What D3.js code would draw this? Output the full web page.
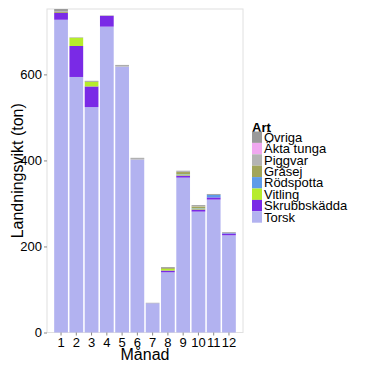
<!DOCTYPE html>
<html>
<head>
<meta charset="utf-8">
<script src="https://cdn.jsdelivr.net/npm/d3@7"></script>
<style>
  body { margin: 0; background: #fff; }
  text { font-family: "Liberation Sans", Arial, sans-serif; fill: #000; }
</style>
</head>
<body>
<svg id="chart" width="367" height="367"></svg>
<script>
var months = ["1", "2", "3", "4", "5", "6", "7", "8", "9", "10", "11", "12"];
var species = ["Torsk", "Skrubbskädda", "Vitling", "Rödspotta", "Gråsej", "Piggvar", "Äkta tunga", "Övriga"];
var colors = ["#b2b2f0", "#7a2ae6", "#b6ec2c", "#5e9be8", "#a2a55a", "#b4b4b4", "#f0a8f0", "#9a9a9a"];

var torsk        = [727, 594, 524, 711, 618, 402, 68, 140, 360, 281, 309, 226];
var skrubbskadda = [16, 72, 48, 25, 0, 0, 0, 4, 5, 5, 5, 4];
var vitling      = [0, 19, 11, 0, 0, 0, 0, 4, 2, 2, 0, 0];
var rodspotta    = [0, 0, 0, 0, 0, 0, 0, 0, 1, 1, 6, 1];
var grasej       = [2, 0, 0, 0, 0, 0, 0, 2, 5, 4, 0, 0];
var piggvar      = [1, 0, 0, 0, 2, 2, 0, 0, 1, 1, 0, 0];
var aktaTunga    = [0, 0, 0, 0, 0, 0, 0, 0, 0, 0, 0, 0];
var ovriga       = [6, 1, 2, 1, 2, 2, 1, 2, 2, 2, 2, 2];
var yTicks = [0, 200, 400, 600];

var series = [torsk, skrubbskadda, vitling, rodspotta, grasej, piggvar, aktaTunga, ovriga];

var rows = months.map(function(m, i) {
    var r = {month: m};
    species.forEach(function(s, j) { r[s] = series[j][i]; });
    return r;
});

var stacked = d3.stack().keys(species)(rows);
var maxTotal = d3.max(rows, function(r) { return d3.sum(species, function(s) { return r[s]; }); });

var panel = {left: 47, right: 243, top: 9, bottom: 332.5};

var x = d3.scaleBand()
    .domain(months)
    .range([panel.left, panel.right])
    .paddingInner(0.1)
    .paddingOuter(0.47);

var y = d3.scaleLinear()
    .domain([0, maxTotal])
    .range([panel.bottom, panel.top]);

var color = d3.scaleOrdinal().domain(species).range(colors);

var svg = d3.select("#chart");

svg.append("rect")
    .attr("x", panel.left)
    .attr("y", panel.top)
    .attr("width", panel.right - panel.left)
    .attr("height", panel.bottom - panel.top)
    .attr("fill", "#fff")
    .attr("stroke", "#e0e0e0")
    .attr("stroke-width", 1);

svg.selectAll(".layer")
    .data(stacked)
    .enter().append("g")
    .attr("class", "layer")
    .attr("fill", function(d) { return color(d.key); })
    .selectAll("rect")
    .data(function(d) { return d; })
    .enter().append("rect")
    .attr("x", function(d) { return x(d.data.month); })
    .attr("width", x.bandwidth())
    .attr("y", function(d) { return y(d[1]); })
    .attr("height", function(d) { return y(d[0]) - y(d[1]); });

var xAxis = d3.axisBottom(x).tickSize(3).tickPadding(2);
var yAxis = d3.axisLeft(y).tickValues(yTicks).tickSize(3).tickPadding(2);

var gx = svg.append("g")
    .attr("transform", "translate(0," + panel.bottom + ")")
    .call(xAxis);
var gy = svg.append("g")
    .attr("transform", "translate(" + panel.left + ",0)")
    .call(yAxis);

[gx, gy].forEach(function(g) {
    g.select(".domain").remove();
    g.selectAll(".tick line").attr("stroke", "#888");
    g.selectAll(".tick text")
        .style("font-size", "13px")
        .style("font-family", "Liberation Sans, Arial, sans-serif")
        .attr("fill", "#000");
});

svg.append("text")
    .attr("x", (panel.left + panel.right) / 2)
    .attr("y", 360)
    .style("text-anchor", "middle")
    .style("font-size", "16px")
    .text("Månad");

svg.append("text")
    .attr("transform", "translate(23," + ((panel.top + panel.bottom) / 2) + ") rotate(-90)")
    .style("text-anchor", "middle")
    .style("font-size", "16px")
    .text("Landningsvikt (ton)");

// legend, top item is last stacked layer
var legendItems = species.slice().reverse();
var legend = svg.append("g").attr("transform", "translate(252,0)");

legend.append("text")
    .attr("x", 0)
    .attr("y", 132)
    .style("font-size", "13px")
    .style("font-weight", "bold")
    .text("Art");

var item = legend.selectAll(".legend")
    .data(legendItems)
    .enter().append("g")
    .attr("class", "legend")
    .attr("transform", function(d, i) { return "translate(0," + (131.5 + i * 11.4) + ")"; });

item.append("rect")
    .attr("width", 10)
    .attr("height", 11.4)
    .attr("fill", function(d) { return color(d); });

item.append("text")
    .attr("x", 12)
    .attr("y", 5.7)
    .attr("dy", ".35em")
    .style("font-size", "13px")
    .text(function(d) { return d; });
</script>
</body>
</html>
